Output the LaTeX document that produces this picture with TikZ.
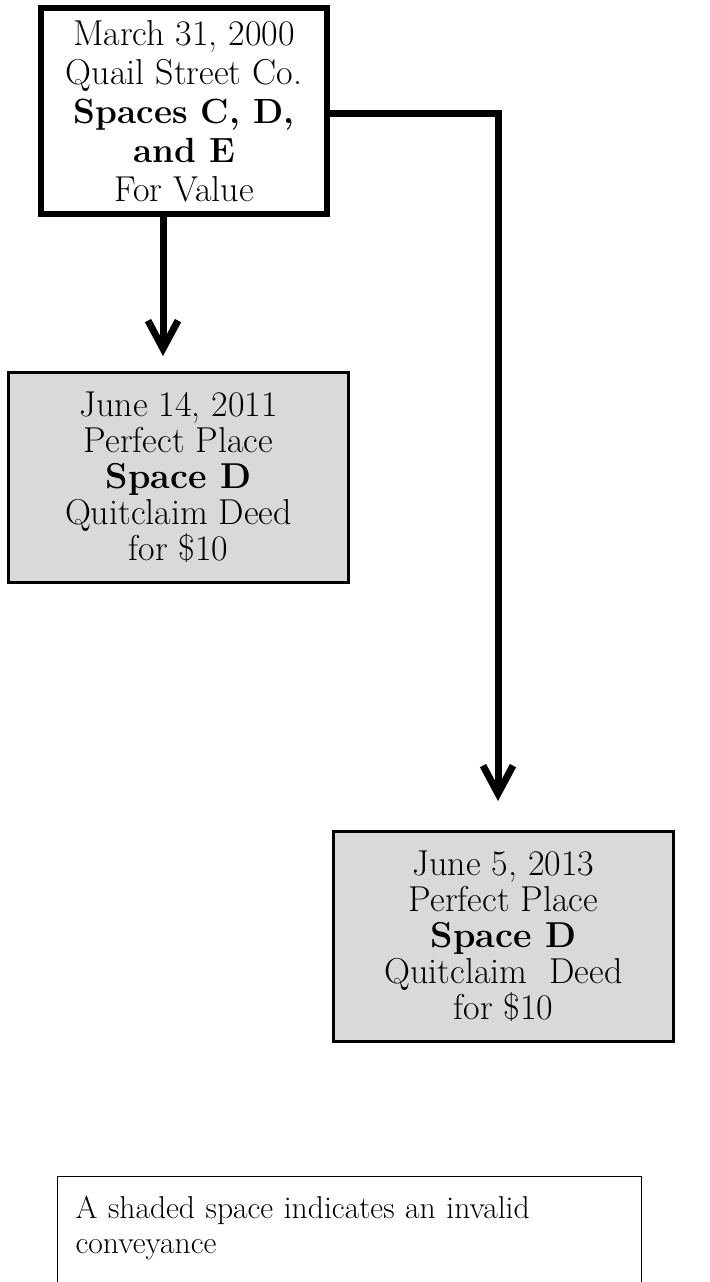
\documentclass[tikz,border=0pt]{standalone}
\usetikzlibrary{arrows.meta}

\begin{document}
\begin{tikzpicture}[x=0.5pt, y=-0.5pt,
    deed/.style = {shape=rectangle, draw, align=center, inner sep=0pt,
                   font=\fontsize{18}{19.5}\selectfont},
    firstdeed/.style = {deed, line width=3pt, minimum width=143pt, minimum height=103pt},
    baddeed/.style = {deed, fill=deedgray, line width=1.5pt, minimum width=170pt,
                      minimum height=105pt, font=\fontsize{18}{18}\selectfont},
    conn/.style = {line width=3.5pt, -{Straight Barb[length=14pt, width=15pt]}},
    keybox/.style = {shape=rectangle, draw, line width=0.6pt, anchor=north west,
                     align=left, text width=274pt, inner xsep=9pt, inner ysep=10pt,
                     text depth=70pt, font=\fontsize{15.8}{17.5}\selectfont}]
\definecolor{deedgray}{HTML}{D9D9D9}
\useasboundingbox (0,0) rectangle (710,1282);

\node[firstdeed] (Q) at (184,111) {March 31, 2000\\Quail Street Co.\\{\bfseries\fontsize{17.5}{19.5}\selectfont Spaces C, D,}\\{\bfseries\fontsize{17.5}{19.5}\selectfont and E}\\For Value};
\node[baddeed] (P1) at (178.5,477.5) {June 14, 2011\\Perfect Place\\{\bfseries Space D}\\Quitclaim Deed\\for \$10};
\node[baddeed] (P2) at (503.5,936.5) {June 5, 2013\\Perfect Place\\{\bfseries Space D}\\Quitclaim~ Deed\\for \$10};

\coordinate (tipA) at (163,356);
\coordinate (bend) at (498,113.5);
\coordinate (tipB) at (498,801);

\draw[conn] (Q.south -| tipA) -- (tipA);
\draw[conn] (Q.east |- bend) -- (bend) -- (tipB);

\node[keybox] (key) at (57,1176) {A shaded space indicates an invalid\\conveyance};
\end{tikzpicture}
\end{document}
